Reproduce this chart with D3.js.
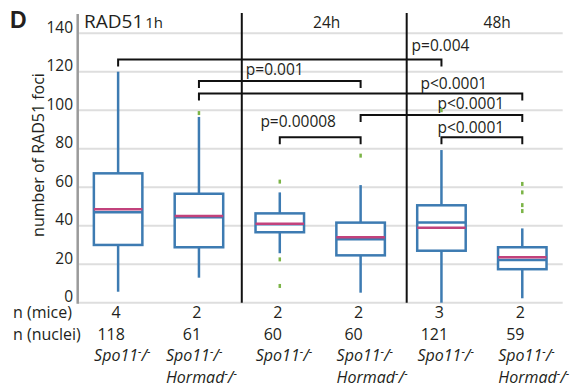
<!doctype html>
<html>
  <head>
    <style>
      body { margin: 0; background: white; }
      svg text { font-family: 'Open Sans', sans-serif; fill: #231f20; }
    </style>
    <script src="https://d3js.org/d3.v7.min.js"></script>
  </head>
  <body>
    <svg id="chart" width="579" height="391"></svg>
    <script>
      // one entry per box, left to right
      const hormad = [false, true, false, true, false, true];
      const mice = [4, 2, 2, 2, 3, 2];
      const nuclei = [118, 61, 60, 60, 121, 59];
      const whiskerLow = [5.7, 13, 25.7, 5.2, 0, 2.3];
      const q1 = [30, 28.8, 36.6, 24.6, 27, 17.4];
      const median = [47, 44.4, 40.7, 33, 41.6, 22.2];
      const q3 = [67.2, 56.6, 46.4, 41.6, 50.6, 28.8];
      const whiskerHigh = [120, 96.5, 57.3, 61.1, 79.3, 38.6];
      const mean = [48.5, 45, 41, 34, 39, 23.6];
      const outliers = [[], [98.5], [62.9, 22.5, 8.7], [76.4], [100], [61.7, 57.3, 50.7, 47.6]];

      const timepoints = ["24h", "48h"];
      const timeCenter = [2.58, 4.69];
      const dividers = [1.53, 3.57];

      const yTicks = [0, 20, 40, 60, 80, 100, 120, 140];

      // significance brackets
      const compFrom = [0, 1, 1, 3, 2, 4];
      const compTo = [4, 3, 5, 5, 3, 5];
      const compLevel = [126.4, 115.2, 108.7, 97.5, 85.9, 85.9];
      const compLabel = ["p=0.004", "p=0.001", "p<0.0001", "p<0.0001", "p=0.00008", "p<0.0001"];
      const labelX = [3.63, 1.58, 3.74, 3.95, 1.76, 3.95];
      const labelY = [131, 118.3, 110.9, 100.5, 91.4, 88];

      const blue = "#3d7bb2", pink = "#c2427c", green = "#7bb446";

      const svg = d3.select("#chart");
      const x = d3.scaleLinear().domain([-0.5, 5.5]).range([77.7, 562.7]);
      const y = d3.scaleLinear().domain([0, 140]).range([302.7, 33.2]);
      const boxW = x(0.3) - x(0);

      // gridlines
      svg.append("g").selectAll("line").data(yTicks).enter().append("line")
        .attr("x1", x(-0.5)).attr("x2", x(5.5))
        .attr("y1", d => y(d)).attr("y2", d => y(d))
        .attr("stroke", "#dedede").attr("stroke-width", 2);

      // y axis
      svg.append("line").attr("x1", x(-0.5)).attr("x2", x(-0.5))
        .attr("y1", 14).attr("y2", y(0) + 1)
        .attr("stroke", "#9a9a9a").attr("stroke-width", 2.5);
      svg.append("g").selectAll("text").data(yTicks).enter().append("text")
        .attr("x", 73).attr("y", d => y(d) - 0.5)
        .attr("text-anchor", "end").style("font-size", "15.5px")
        .text(d => d);
      svg.append("text")
        .attr("transform", "translate(44," + 155 + ") rotate(-90)")
        .attr("text-anchor", "middle").style("font-size", "16px")
        .text("number of RAD51 foci");

      // time dividers
      svg.append("g").selectAll("line").data(dividers).enter().append("line")
        .attr("x1", d => x(d)).attr("x2", d => x(d))
        .attr("y1", 13).attr("y2", y(0))
        .attr("stroke", "#111").attr("stroke-width", 2);

      // headers
      svg.append("text").attr("x", 10).attr("y", 28)
        .style("font-family", "'Liberation Sans', sans-serif")
        .style("font-weight", "bold").style("font-size", "23px").text("D");
      const rad = svg.append("text").attr("x", 84).attr("y", 28).style("font-size", "19px");
      rad.append("tspan").text("RAD51");
      rad.append("tspan").style("font-size", "15px").attr("dx", 2).text("1h");
      svg.append("g").selectAll("text").data(timepoints).enter().append("text")
        .attr("x", (d, i) => x(timeCenter[i])).attr("y", 28)
        .attr("text-anchor", "middle").style("font-size", "15.5px")
        .text(d => d);

      // brackets
      const br = svg.append("g").selectAll("g").data(compLabel).enter().append("g");
      br.append("path")
        .attr("d", (d, i) => {
          const yy = y(compLevel[i]);
          return "M" + x(compFrom[i]) + "," + (yy + 7) + "V" + yy +
                 "H" + x(compTo[i]) + "V" + (yy + 7);
        })
        .attr("fill", "none").attr("stroke", "#111").attr("stroke-width", 2);
      br.append("text")
        .attr("x", (d, i) => x(labelX[i])).attr("y", (d, i) => y(labelY[i]))
        .style("font-size", "15.5px")
        .text(d => d);

      // boxes
      const box = svg.append("g").selectAll("g").data(q1).enter().append("g");
      box.append("line")
        .attr("x1", (d, i) => x(i)).attr("x2", (d, i) => x(i))
        .attr("y1", (d, i) => y(whiskerLow[i])).attr("y2", (d, i) => y(q1[i]))
        .attr("stroke", blue).attr("stroke-width", 2.5);
      box.append("line")
        .attr("x1", (d, i) => x(i)).attr("x2", (d, i) => x(i))
        .attr("y1", (d, i) => y(whiskerHigh[i])).attr("y2", (d, i) => y(q3[i]))
        .attr("stroke", blue).attr("stroke-width", 2.5);
      box.append("rect")
        .attr("x", (d, i) => x(i) - boxW).attr("width", 2 * boxW)
        .attr("y", (d, i) => y(q3[i])).attr("height", (d, i) => y(q1[i]) - y(q3[i]))
        .attr("fill", "white").attr("stroke", blue).attr("stroke-width", 2.5);
      box.append("line")
        .attr("x1", (d, i) => x(i) - boxW).attr("x2", (d, i) => x(i) + boxW)
        .attr("y1", (d, i) => y(median[i])).attr("y2", (d, i) => y(median[i]))
        .attr("stroke", blue).attr("stroke-width", 2.5);
      box.append("line")
        .attr("x1", (d, i) => x(i) - boxW).attr("x2", (d, i) => x(i) + boxW)
        .attr("y1", (d, i) => y(mean[i])).attr("y2", (d, i) => y(mean[i]))
        .attr("stroke", pink).attr("stroke-width", 2.5);
      box.selectAll("line.out").data((d, i) => outliers[i].map(v => [i, v]))
        .enter().append("line").attr("class", "out")
        .attr("x1", d => x(d[0])).attr("x2", d => x(d[0]))
        .attr("y1", d => y(d[1]) - 2).attr("y2", d => y(d[1]) + 2)
        .attr("stroke", green).attr("stroke-width", 2.5);

      // bottom table
      svg.append("text").attr("x", 13).attr("y", 318).style("font-size", "16px").text("n (mice)");
      svg.append("text").attr("x", 13).attr("y", 340).style("font-size", "16px").text("n (nuclei)");
      svg.append("g").selectAll("text").data(mice).enter().append("text")
        .attr("x", (d, i) => x(i) - 2).attr("y", 318)
        .attr("text-anchor", "middle").style("font-size", "16px").text(d => d);
      svg.append("g").selectAll("text").data(nuclei).enter().append("text")
        .attr("x", (d, i) => x(i) - 7).attr("y", 340)
        .attr("text-anchor", "middle").style("font-size", "16px").text(d => d);

      function genotype(sel, name) {
        sel.append("tspan").text(name);
        sel.append("tspan").attr("dy", -6).style("font-size", "11px").text("-");
        sel.append("tspan").attr("dy", 6).text("/");
        sel.append("tspan").attr("dy", -6).style("font-size", "11px").text("-");
      }
      hormad.forEach((h, i) => {
        const lx = x(i) - (i === 1 ? 33 : 24);
        const t1 = svg.append("text").attr("x", lx).attr("y", 361)
          .style("font-size", "16px").style("font-style", "italic");
        genotype(t1, "Spo11");
        if (h) {
          const t2 = svg.append("text").attr("x", lx).attr("y", 383)
            .style("font-size", "16px").style("font-style", "italic");
          genotype(t2, "Hormad");
        }
      });
    </script>
  </body>
</html>
